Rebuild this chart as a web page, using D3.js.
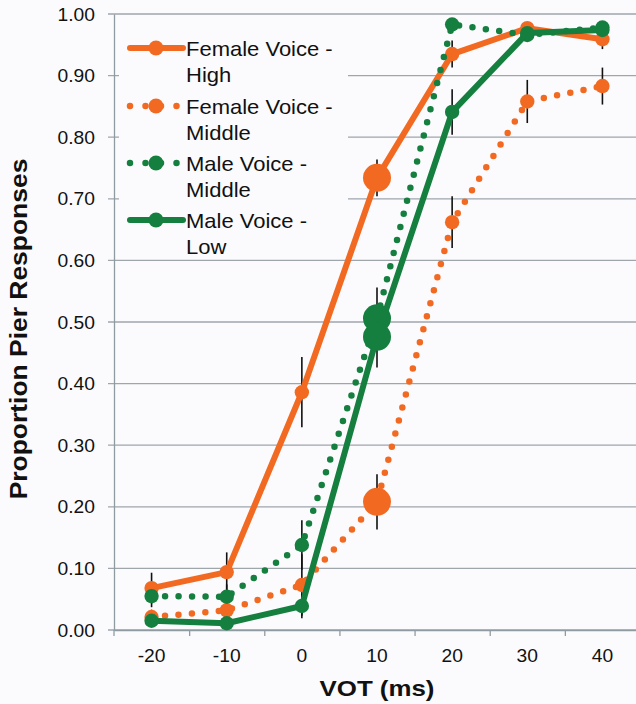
<!DOCTYPE html>
<html>
<head>
<meta charset="utf-8">
<script src="https://cdn.jsdelivr.net/npm/d3@7/dist/d3.min.js"></script>
<style>
  html, body { margin: 0; padding: 0; background: #fbfbfd; }
  svg { display: block; }
</style>
</head>
<body>
<svg id="chart" width="636" height="704"></svg>
<script>
// ---- data ----
const votValues = [-20, -10, 0, 10, 20, 30, 40];
const yTickValues = [0, 0.1, 0.2, 0.3, 0.4, 0.5, 0.6, 0.7, 0.8, 0.9, 1.0];

const femaleHigh      = [0.068, 0.094, 0.386, 0.734, 0.935, 0.977, 0.959];
const femaleHighErr   = [0.025, 0.032, 0.057, 0.030, 0.022, 0.010, 0.016];

const femaleMiddle    = [0.021, 0.032, 0.073, 0.208, 0.662, 0.858, 0.883];
const femaleMiddleErr = [0.012, 0.015, 0.050, 0.045, 0.042, 0.035, 0.030];

const maleMiddle      = [0.055, 0.054, 0.138, 0.506, 0.983, 0.966, 0.978];
const maleMiddleErr   = [0.018, 0.020, 0.040, 0.050, 0.010, 0.010, 0.010];

const maleLow         = [0.015, 0.011, 0.039, 0.476, 0.841, 0.969, 0.974];
const maleLowErr      = [0.010, 0.010, 0.020, 0.050, 0.037, 0.012, 0.010];

const seriesLabels = [
  ["Female Voice -", "High"],
  ["Female Voice -", "Middle"],
  ["Male Voice -", "Middle"],
  ["Male Voice -", "Low"]
];

const xTitle = "VOT (ms)";
const yTitle = "Proportion Pier Responses";

// ---- styling ----
const ORANGE = "#f26a22";
const GREEN = "#157f3f";
const GRID = "#9ea6ab";
const AXIS = "#8e9ca2";
const BG = "#fbfbfd";
const FONT = "'Liberation Sans', Arial, Helvetica, sans-serif";
const emphasizedVot = 10;   // the step where markers are drawn enlarged

const series = [
  { values: femaleHigh,   err: femaleHighErr,   color: ORANGE, dotted: false, label: seriesLabels[0] },
  { values: femaleMiddle, err: femaleMiddleErr, color: ORANGE, dotted: true,  label: seriesLabels[1] },
  { values: maleMiddle,   err: maleMiddleErr,   color: GREEN,  dotted: true,  label: seriesLabels[2] },
  { values: maleLow,      err: maleLowErr,      color: GREEN,  dotted: false, label: seriesLabels[3] }
];

// ---- layout ----
const svg = d3.select("#chart");
const W = 636, H = 704;
const plot = { left: 114, right: 640, top: 14, bottom: 630 };

const x = d3.scaleBand().domain(votValues).range([plot.left, plot.right]);
const cx = v => x(v) + x.bandwidth() / 2;
const y = d3.scaleLinear().domain([0, 1]).range([plot.bottom, plot.top]);

svg.append("rect").attr("width", W).attr("height", H).attr("fill", BG);

// Text helper: Helvetica-style wide glyphs, approximated with a horizontal stretch
function label(g, str, px, py, opt) {
  const t = g.append("text")
    .attr("transform", `translate(${px},${py}) rotate(${opt.rotate || 0}) scale(${opt.sx || 1},1)`)
    .attr("font-family", FONT)
    .attr("font-size", opt.size)
    .attr("font-weight", opt.weight || "normal")
    .attr("text-anchor", opt.anchor || "start")
    .attr("fill", "#111")
    .text(str);
  return t;
}

// ---- gridlines (extend a little left of the axis to form ticks) ----
svg.append("g").selectAll("line").data(yTickValues).join("line")
  .attr("x1", plot.left - 6).attr("x2", plot.right)
  .attr("y1", d => y(d)).attr("y2", d => y(d))
  .attr("stroke", GRID).attr("stroke-width", 1.3);

// ---- x axis: ticks at category boundaries ----
const boundary = d3.scaleLinear().domain([0, votValues.length]).range([plot.left, plot.right]);
const xAxis = d3.axisBottom(boundary)
  .tickValues(d3.range(1, votValues.length))
  .tickSize(6).tickSizeOuter(0).tickFormat("");
svg.append("g").attr("transform", `translate(0,${plot.bottom})`).call(xAxis)
  .call(g => g.select(".domain").attr("stroke", AXIS).attr("stroke-width", 1.3))
  .call(g => g.selectAll(".tick line").attr("stroke", AXIS).attr("stroke-width", 1.3));

// ---- y axis line ----
const yAxis = d3.axisLeft(y).tickValues([]).tickSizeOuter(0);
svg.append("g").attr("transform", `translate(${plot.left},0)`).call(yAxis)
  .call(g => g.select(".domain").attr("stroke", AXIS).attr("stroke-width", 1.3));
svg.append("line")
  .attr("x1", plot.left).attr("x2", plot.left)
  .attr("y1", plot.bottom).attr("y2", plot.bottom + 6)
  .attr("stroke", AXIS).attr("stroke-width", 1.3);

// ---- tick labels ----
const yLab = svg.append("g");
yTickValues.forEach(v => label(yLab, d3.format(".2f")(v), 95, y(v) + 6.5,
  { size: 17.5, anchor: "end", sx: 1.1 }));
const xLab = svg.append("g");
votValues.forEach(v => label(xLab, String(v), cx(v), 662,
  { size: 17.5, anchor: "middle", sx: 1.1 }));

// ---- axis titles ----
label(svg, xTitle, 377, 696, { size: 22.5, weight: "bold", anchor: "middle", sx: 1.15 });
label(svg, yTitle, 27, 329, { size: 23, weight: "bold", anchor: "middle", sx: 1.15, rotate: -90 });

// ---- legend panel (hides the gridlines behind it) ----
const legend = svg.append("g");
legend.append("rect").attr("x", plot.left + 5).attr("y", 18)
  .attr("width", 229).attr("height", 240).attr("fill", BG);

// ---- error bars ----
const errG = svg.append("g");
series.forEach(s => {
  errG.append("g").selectAll("line").data(votValues.map((v, i) => ({ v, val: s.values[i], e: s.err[i] })))
    .join("line")
    .attr("x1", d => cx(d.v)).attr("x2", d => cx(d.v))
    .attr("y1", d => y(d.val + d.e)).attr("y2", d => y(d.val - d.e))
    .attr("stroke", "#111").attr("stroke-width", 1.6);
});

// ---- series lines and markers ----
const line = d3.line().x(d => cx(d.v)).y(d => y(d.val));
series.forEach(s => {
  const pts = votValues.map((v, i) => ({ v, val: s.values[i] }));
  const g = svg.append("g");
  const path = g.append("path").datum(pts)
    .attr("d", line)
    .attr("fill", "none")
    .attr("stroke", s.color)
    .attr("stroke-linejoin", "round")
    .attr("stroke-linecap", "round");
  if (s.dotted) {
    path.attr("stroke-width", 6.5).attr("stroke-dasharray", "0 13.5");
  } else {
    path.attr("stroke-width", 6);
  }
  g.selectAll("circle").data(pts).join("circle")
    .attr("cx", d => cx(d.v)).attr("cy", d => y(d.val))
    .attr("r", d => d.v === emphasizedVot ? 14 : 7.2)
    .attr("fill", s.color);
});

// ---- legend entries ----
const rowY = [48, 106, 163, 220];
series.forEach((s, i) => {
  const ly = rowY[i];
  const seg = legend.append("line")
    .attr("x1", 130).attr("x2", 183).attr("y1", ly).attr("y2", ly)
    .attr("stroke", s.color).attr("stroke-linecap", "round");
  if (s.dotted) seg.attr("stroke-width", 6.5).attr("stroke-dasharray", "0 15.5");
  else seg.attr("stroke-width", 6);
  legend.append("circle").attr("cx", 156).attr("cy", ly).attr("r", 7.5).attr("fill", s.color);
  label(legend, s.label[0], 186, ly + 8, { size: 20, sx: 1.1 });
  label(legend, s.label[1], 186, ly + 34, { size: 20, sx: 1.1 });
});
</script>
</body>
</html>
